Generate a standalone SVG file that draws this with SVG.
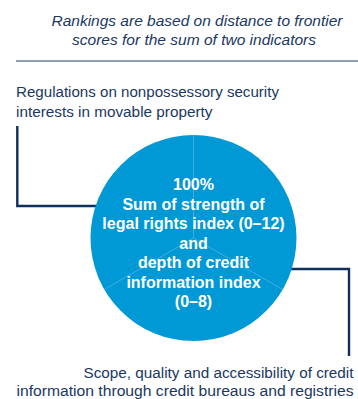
<svg xmlns="http://www.w3.org/2000/svg" width="358" height="399" viewBox="0 0 358 399">
<style>
.t{font-family:"Liberation Sans",Arial,sans-serif;fill:#1b3862}
.ti{font-style:italic;font-size:15.5px;text-anchor:middle}
.lb{font-size:15.3px}
.c{font-family:"Liberation Sans",Arial,sans-serif;font-weight:bold;font-size:16px;fill:#ffffff;text-anchor:middle}
.conn{fill:none;stroke:#10305c;stroke-width:2.4}
</style>
<rect width="358" height="399" fill="#ffffff"/>
<g id="title">
<text class="t ti" x="197" y="25.5" textLength="291" lengthAdjust="spacingAndGlyphs">Rankings are based on distance to frontier</text>
<text class="t ti" x="194" y="44.5" textLength="244" lengthAdjust="spacingAndGlyphs">scores for the sum of two indicators</text>
<line x1="16" y1="61" x2="358" y2="61" stroke="#8e9fb7" stroke-width="2"/>
</g>
<g id="connectors">
<polyline class="conn" points="17.3,126 17.3,206 100,206"/>
<polyline class="conn" points="288,269 349,269 349,356"/>
</g>
<g id="center">
<circle cx="193.5" cy="238" r="103" fill="#0099d6"/>
<g stroke="#5ab8e6" stroke-width="0.7">
<line x1="193.5" y1="135" x2="193.5" y2="238"/>
<line x1="193.5" y1="238" x2="104.3" y2="289.5"/>
<line x1="193.5" y1="238" x2="282.7" y2="289.5"/>
</g>
<text class="c" x="193.5" y="190">100%</text>
<text class="c" x="193.5" y="209.5">Sum of strength of</text>
<text class="c" x="193.5" y="229">legal rights index (0–12)</text>
<text class="c" x="193.5" y="248.5">and</text>
<text class="c" x="193.5" y="268">depth of credit</text>
<text class="c" x="193.5" y="287.5">information index</text>
<text class="c" x="193.5" y="306.5">(0–8)</text>
</g>
<g id="regulations">
<text class="t lb" x="16" y="96.5" textLength="263" lengthAdjust="spacingAndGlyphs">Regulations on nonpossessory security</text>
<text class="t lb" x="16" y="116.5">interests in movable property</text>
</g>
<g id="scope">
<text class="t lb" x="353.5" y="378.3" text-anchor="end" textLength="270" lengthAdjust="spacingAndGlyphs">Scope, quality and accessibility of credit</text>
<text class="t lb" x="353.5" y="396" text-anchor="end" textLength="337" lengthAdjust="spacingAndGlyphs">information through credit bureaus and registries</text>
</g>
</svg>
